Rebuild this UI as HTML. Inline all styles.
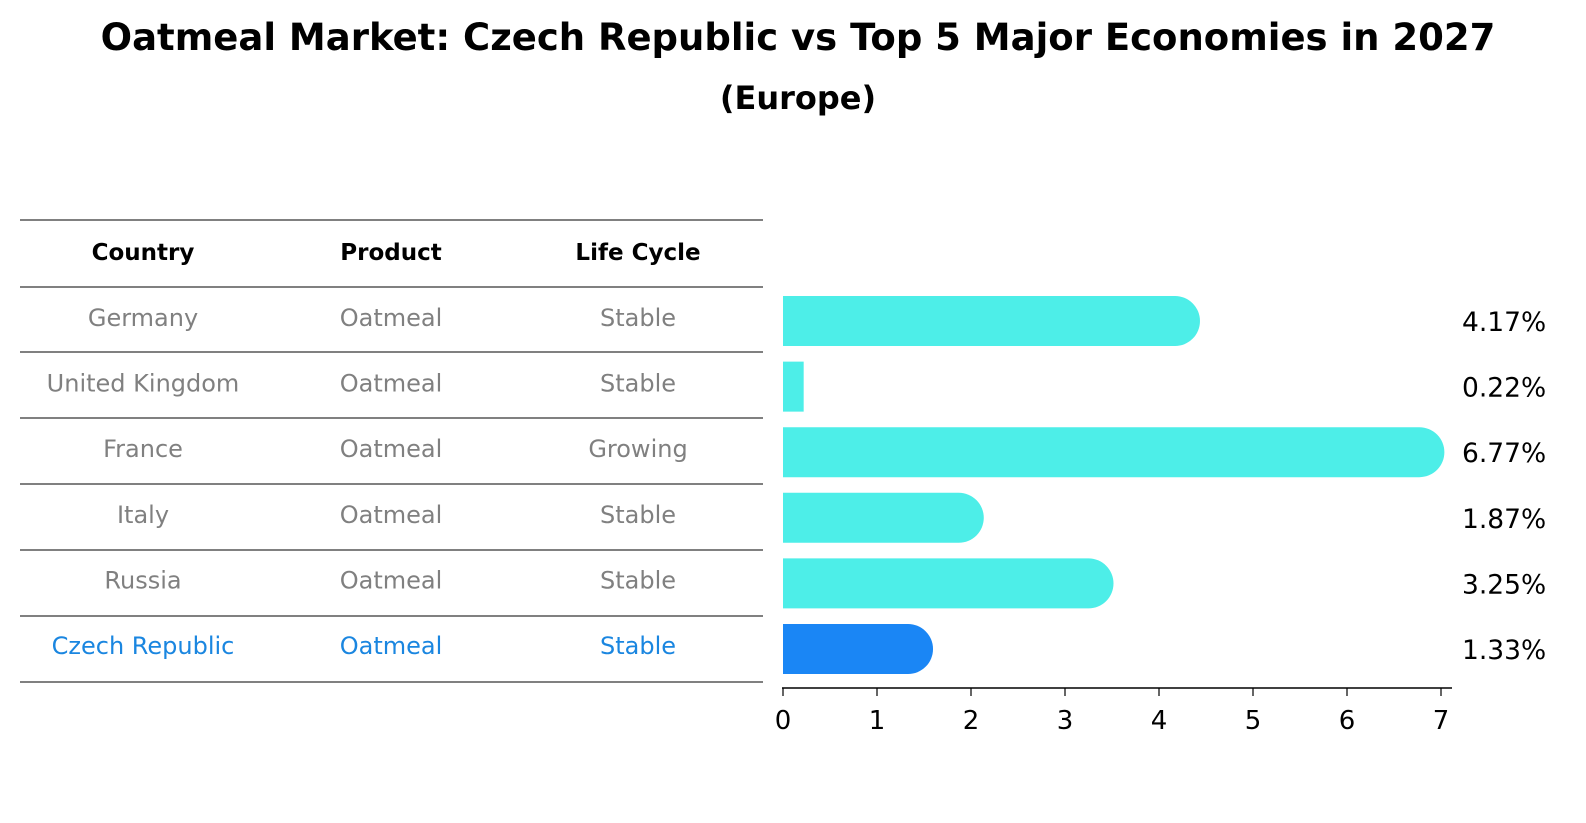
<!DOCTYPE html>
<html><head><meta charset="utf-8"><style>
html,body{margin:0;padding:0;background:#fff;overflow:hidden;width:1586px;height:823px;}
svg{display:block;}
svg text{font-family:"DejaVu Sans","Liberation Sans",sans-serif;}
</style></head><body>
<svg width="1586" height="823" xmlns="http://www.w3.org/2000/svg">
<text x="798" y="50" text-anchor="middle" font-size="37" font-weight="bold">Oatmeal Market: Czech Republic vs Top 5 Major Economies in 2027</text>
<text x="798" y="109" text-anchor="middle" font-size="32" font-weight="bold">(Europe)</text>
<g id="table"></g>
<g id="bars"></g>
</svg>
<script>
const countries=["Germany","United Kingdom","France","Italy","Russia","Czech Republic"];
const products=["Oatmeal","Oatmeal","Oatmeal","Oatmeal","Oatmeal","Oatmeal"];
const lifeCycles=["Stable","Stable","Growing","Stable","Stable","Stable"];
const values=[4.17,0.22,6.77,1.87,3.25,1.33];
const ticks=[0,1,2,3,4,5,6,7];
const NS="http://www.w3.org/2000/svg";
function mk(t,a,p){const e=document.createElementNS(NS,t);for(const k in a)e.setAttribute(k,a[k]);p.appendChild(e);return e;}
const tbl=document.getElementById('table'),bars=document.getElementById('bars');
const x=v=>783+v*94;
const rowY=i=>320+i*65.6;
const lineYs=[220,287,352,418,484,550,616,682];
lineYs.forEach((y,i)=>{const l=mk('line',{x1:20,x2:763,y1:y,y2:y,stroke:'#000','stroke-width':1},tbl);

});
const colX=[143,391,638];
["Country","Product","Life Cycle"].forEach((h,j)=>{const t=mk('text',{x:colX[j],y:260,'text-anchor':'middle','font-size':23,'font-weight':'bold'},tbl);t.textContent=h;

});
countries.forEach((c,i)=>{
 const hl=i===countries.length-1;
 [c,products[i],lifeCycles[i]].forEach((s,j)=>{
  const t=mk('text',{x:colX[j],y:rowY(i)+6,'text-anchor':'middle','font-size':24,fill:hl?'#1a86e0':'#808080'},tbl);t.textContent=s;
  
  
 });
 const v=values[i],y=rowY(i),h=50,col=hl?'#1a86f5':'#4deee8';
 const xe=x(v),r=h/2;
 let d;
 if(v>0.5){d=`M783 ${y-r+1} H${xe} A${r} ${r} 0 0 1 ${xe} ${y+r+1} H783 Z`;}
 else{d=`M783 ${y-r+1} H${xe} V${y+r+1} H783 Z`;}
 const b=mk('path',{d:d,fill:col},bars);
 
 
 const lt=mk('text',{x:1462,y:y+11,'font-size':26.5},bars);lt.textContent=v.toFixed(2)+'%';
 
 
});
const ax=mk('line',{x1:782,x2:1452,y1:688,y2:688,stroke:'#000','stroke-width':1.5},bars);


ticks.forEach(t=>{const l=mk('line',{x1:x(t),x2:x(t),y1:688,y2:696,stroke:'#000','stroke-width':1.2},bars);


const tx=mk('text',{x:x(t),y:729,'text-anchor':'middle','font-size':26},bars);tx.textContent=t;

});
</script>
</body></html>
